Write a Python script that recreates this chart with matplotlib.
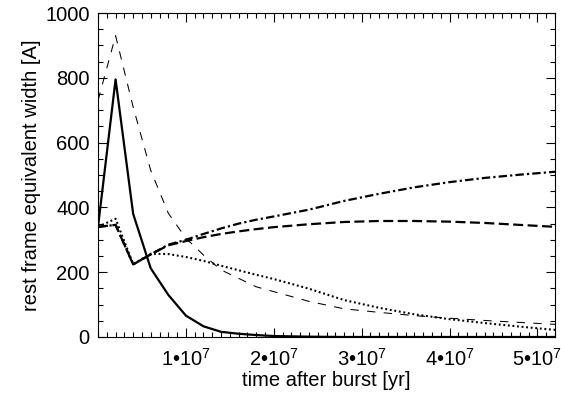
import numpy as np
import matplotlib
matplotlib.use('Agg')
import matplotlib.pyplot as plt
from matplotlib.ticker import MultipleLocator

plt.rcParams['font.family'] = ['Liberation Sans', 'DejaVu Sans']
plt.rcParams['mathtext.fontset'] = 'custom'
plt.rcParams['mathtext.rm'] = 'Liberation Sans'
plt.rcParams['mathtext.default'] = 'regular'

# time after burst [yr]
t = np.array([0, 2, 4, 6, 8, 10, 12, 14, 16, 18, 20,
              24, 28, 32, 36, 40, 44, 48, 52]) * 1e6

ew_solid = [340, 795, 380, 212, 130, 66, 33, 16, 10, 6, 3,
            1, 0, 0, 0, 0, 0, 0, 0]
ew_thin_dash = [730, 930, 710, 514, 382, 305, 253, 207, 181, 155, 140,
                110, 87, 76, 66, 58, 51, 45, 39]
ew_dash = [340, 346, 224, 255, 283, 296, 308, 318, 326, 333, 339,
           348, 355, 358, 358, 356, 352, 346, 340]
ew_dashdot = [340, 346, 224, 255, 285, 300, 318, 335, 350, 362, 372,
              393, 420, 442, 462, 478, 491, 501, 510]
ew_dot = [340, 365, 225, 257, 256, 247, 235, 220, 206, 192, 179,
          149, 114, 90, 70, 55, 43, 32, 22]

xticks = [1e7, 2e7, 3e7, 4e7, 5e7]
xticklabels = ['1•10$^{7}$', '2•10$^{7}$', '3•10$^{7}$', '4•10$^{7}$', '5•10$^{7}$']
yticks = [0, 200, 400, 600, 800, 1000]

fig = plt.figure(figsize=(5.61, 3.93), dpi=100)
ax = fig.add_axes([0.1747, 0.1425, 0.8146, 0.8244])

ax.plot(t, ew_solid, color='black', lw=1.6)
ax.plot(t, ew_thin_dash, color='black', lw=0.75, dashes=(8, 8))
ax.plot(t, ew_dash, color='black', lw=1.6, dashes=(4.5, 2))
ax.plot(t, ew_dashdot, color='black', lw=1.6, dashes=(3.8, 1.4, 1, 1.4))
ax.plot(t, ew_dot, color='black', lw=1.5, dashes=(0.9, 1.3))

ax.set_xlim(0, 5.2e7)
ax.set_ylim(0, 1000)
ax.set_xticks(xticks)
ax.set_xticklabels(xticklabels)
ax.set_yticks(yticks)
ax.xaxis.set_minor_locator(MultipleLocator(1e6))
ax.yaxis.set_minor_locator(MultipleLocator(50))
ax.tick_params(which='both', direction='in', top=True, right=True,
               labelsize=14.5, width=0.8)
ax.tick_params(which='major', length=6.5, pad=6)
ax.tick_params(axis='x', which='major', pad=8)
ax.tick_params(which='minor', length=3.5)
for s in ax.spines.values():
    s.set_linewidth(0.8)

ax.set_xlabel('time after burst [yr]', fontsize=14.5, labelpad=1)
ax.set_ylabel('rest frame equivalent width [A]', fontsize=14.5, labelpad=3)

fig.savefig('out.png', dpi=100)
